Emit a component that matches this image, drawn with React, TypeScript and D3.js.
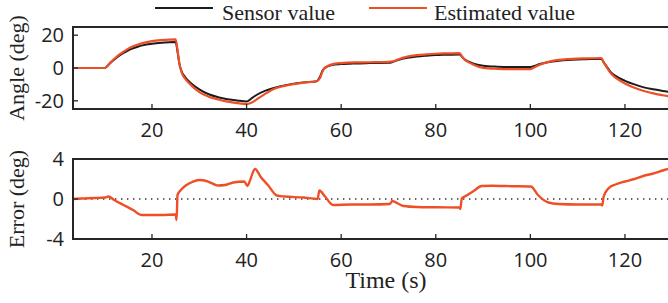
import * as d3 from "d3";
import React from "react";

// time axis (s) for the angle traces
const times = [
  3, 10, 11, 12, 13, 14, 15, 16, 17, 18, 20, 22, 25, 25.4, 25.8, 26.3, 27, 28, 30, 32,
  34, 36, 38, 40, 41, 42, 44, 46, 48, 50, 52, 54.8, 55.5, 56, 56.5, 57, 58, 60, 63, 66,
  70, 71, 72, 74, 76, 78, 80, 82, 85, 85.5, 86, 87, 88, 90, 93, 96, 100, 101, 102, 104,
  106, 108, 110, 112, 115, 115.5, 116, 117, 118, 120, 122, 124, 126, 128, 130,
];

const sensorValues = [
  0, 0, 2.5, 5, 7.3, 9.2, 10.8, 12, 13, 13.8, 14.8, 15.4, 15.8, 10, 2.5, -2.3, -5.5, -8.6, -13, -16,
  -17.8, -19, -19.8, -20.4, -18.6, -16.6, -13.8, -12, -10.6, -9.6, -8.8, -8.1, -5.5, -2, 0, 0.8, 1.8, 2.4, 2.8, 3,
  3.2, 3.8, 4.8, 6.2, 7, 7.5, 7.9, 8.1, 8.3, 7, 5.5, 3.8, 2.6, 1.4, 0.8, 0.6, 0.6, 1.4, 2.4, 3.7,
  4.4, 4.9, 5.2, 5.4, 5.6, 3.5, 1.5, -2.5, -4.8, -7.8, -10, -11.8, -13, -14, -14.8,
];

const estimatedValues = [
  0, 0, 2.7, 5.5, 8, 10, 11.8, 13.2, 14.3, 15.2, 16.4, 17, 17.4, 11, 2.5, -3, -6.5, -9.8, -14.7, -17.5,
  -19.2, -20.5, -21.4, -22, -21.2, -19.4, -15.6, -12.5, -10.9, -9.8, -8.9, -8.1, -6.3, -2.5, -0.2, 0.9, 2.2, 3, 3.4, 3.5,
  3.7, 4, 5.2, 6.9, 7.8, 8.3, 8.7, 8.9, 9.1, 7.2, 5.4, 3.4, 2, 0.1, -0.5, -0.7, -0.7, 0.6, 2, 3.9,
  4.9, 5.4, 5.7, 5.9, 6.1, 3.4, 1.1, -3.3, -5.9, -9.5, -12.1, -14, -15.5, -16.6, -17.6,
];

// error trace (deg)
const errorTimes = [
  3, 5, 8, 10, 10.8, 12, 14, 16, 17.8, 20, 22, 25, 25.2, 25.4, 26.3, 27.3, 28.5, 30, 31.5, 33,
  34, 35.5, 37.2, 39.5, 40.2, 40.6, 41.8, 43, 44.5, 46.4, 48, 52, 55, 55.4, 56.5, 58.3, 62, 66, 70.3, 70.8,
  72, 73.2, 76, 80, 85, 85.2, 85.5, 86.3, 88, 89.7, 92, 96, 100.1, 101.6, 103.8, 106, 110, 115, 115.2, 115.5,
  116.5, 118, 120, 122, 124.2, 126, 128, 130,
];

const errorValues = [
  0, 0.05, 0.1, 0.15, 0.25, -0.1, -0.6, -1.1, -1.6, -1.6, -1.6, -1.55, -2.1, 0.4, 1, 1.4, 1.7, 1.9, 1.8, 1.5,
  1.35, 1.4, 1.65, 1.75, 1.3, 1.7, 3, 2.2, 1.4, 0.35, 0.25, 0.15, 0, 0.85, 0.3, -0.6, -0.55, -0.55, -0.5, -0.2,
  -0.45, -0.7, -0.8, -0.83, -0.85, -1, 0.05, 0.3, 0.8, 1.3, 1.32, 1.28, 1.25, 0.4, -0.35, -0.5, -0.55, -0.55, -0.65, 0.25,
  1.05, 1.45, 1.75, 2, 2.35, 2.55, 2.85, 3.1,
];

const xTicks = [20, 40, 60, 80, 100, 120];
const angleTicks = [-20, 0, 20];
const errorTicks = [-4, 0, 4];

const W = 668;
const H = 303;
const left = 73;
const right = 668;
const top1 = 27, bottom1 = 109;
const top2 = 159, bottom2 = 239;

const BLACK = "#1c1c1c";
const RED = "#ef4f27";
const FRAME = "#262626";
const serif = "'Liberation Serif', 'DejaVu Serif', serif";
const sans = "'Open Sans', 'DejaVu Sans', sans-serif";

export default function App() {
  const x = d3.scaleLinear().domain([3.3, 129.1]).range([left, right]);
  const yA = d3.scaleLinear().domain([-25, 25]).range([bottom1, top1]);
  const yE = d3.scaleLinear().domain([-4, 4]).range([bottom2, top2]);

  const lineA = (vals: number[]) =>
    d3
      .line<number>()
      .x((_, i) => x(times[i]))
      .y((d) => yA(d))
      .curve(d3.curveMonotoneX)(vals) || "";

  const errLine =
    d3
      .line<number>()
      .x((_, i) => x(errorTimes[i]))
      .y((d) => yE(d))
      .curve(d3.curveMonotoneX)(errorValues) || "";

  const panel = (
    yS: d3.ScaleLinear<number, number>,
    yTicks: number[],
    top: number,
    bottom: number,
    clipId: string,
    label: string,
    content: React.ReactNode
  ) => (
    <g>
      <defs>
        <clipPath id={clipId}>
          <rect x={left} y={top} width={right - left + 10} height={bottom - top} />
        </clipPath>
      </defs>
      <g clipPath={`url(#${clipId})`}>{content}</g>
      {/* x ticks */}
      {xTicks.map((t) => (
        <g key={"x" + t}>
          <line x1={x(t)} x2={x(t)} y1={bottom} y2={bottom - 5} stroke={FRAME} strokeWidth={1.3} />
          <text x={x(t)} y={bottom + 28} textAnchor="middle" fontFamily={sans} fontSize={20} fill="#222">
            {t}
          </text>
        </g>
      ))}
      {/* y ticks */}
      {yTicks.map((t) => (
        <g key={"y" + t}>
          <line x1={left} x2={left + 5} y1={yS(t)} y2={yS(t)} stroke={FRAME} strokeWidth={1.3} />
          <text x={left - 9} y={yS(t) + 7} textAnchor="end" fontFamily={sans} fontSize={20} fill="#222">
            {t}
          </text>
        </g>
      ))}
      {/* frame */}
      <path
        d={`M${right + 2},${top}H${left}V${bottom}H${right + 2}`}
        fill="none"
        stroke={FRAME}
        strokeWidth={2}
      />
      <text
        transform={`translate(24,${(top + bottom) / 2}) rotate(-90)`}
        textAnchor="middle"
        fontFamily={serif}
        fontSize={22}
        fill="#222"
      >
        {label}
      </text>
    </g>
  );

  return (
    <svg
      width={W}
      height={H}
      viewBox={`0 0 ${W} ${H}`}
      style={{ position: "absolute", left: 0, top: 0, background: "#fff" }}
    >
      <rect width={W} height={H} fill="#fff" />

      {/* Legend */}
      <line x1={155} x2={213} y1={8} y2={8} stroke={BLACK} strokeWidth={2} />
      <text x={222} y={19.5} fontFamily={serif} fontSize={22} fill="#222">
        Sensor value
      </text>
      <line x1={369} x2={427} y1={8} y2={8} stroke={RED} strokeWidth={2} />
      <text x={434} y={19.5} fontFamily={serif} fontSize={22} fill="#222">
        Estimated value
      </text>

      {panel(
        yA,
        angleTicks,
        top1,
        bottom1,
        "clipA",
        "Angle (deg)",
        <>
          <path d={lineA(sensorValues)} fill="none" stroke={BLACK} strokeWidth={2} />
          <path d={lineA(estimatedValues)} fill="none" stroke={RED} strokeWidth={2.2} />
        </>
      )}

      {panel(
        yE,
        errorTicks,
        top2,
        bottom2,
        "clipE",
        "Error (deg)",
        <>
          <line
            x1={left}
            x2={right}
            y1={yE(0)}
            y2={yE(0)}
            stroke="#333"
            strokeWidth={1.4}
            strokeDasharray="1.4,4.6"
          />
          <path d={errLine} fill="none" stroke={RED} strokeWidth={2.4} />
        </>
      )}

      <text x={386} y={288} textAnchor="middle" fontFamily={serif} fontSize={24} fill="#222">
        Time (s)
      </text>
    </svg>
  );
}
